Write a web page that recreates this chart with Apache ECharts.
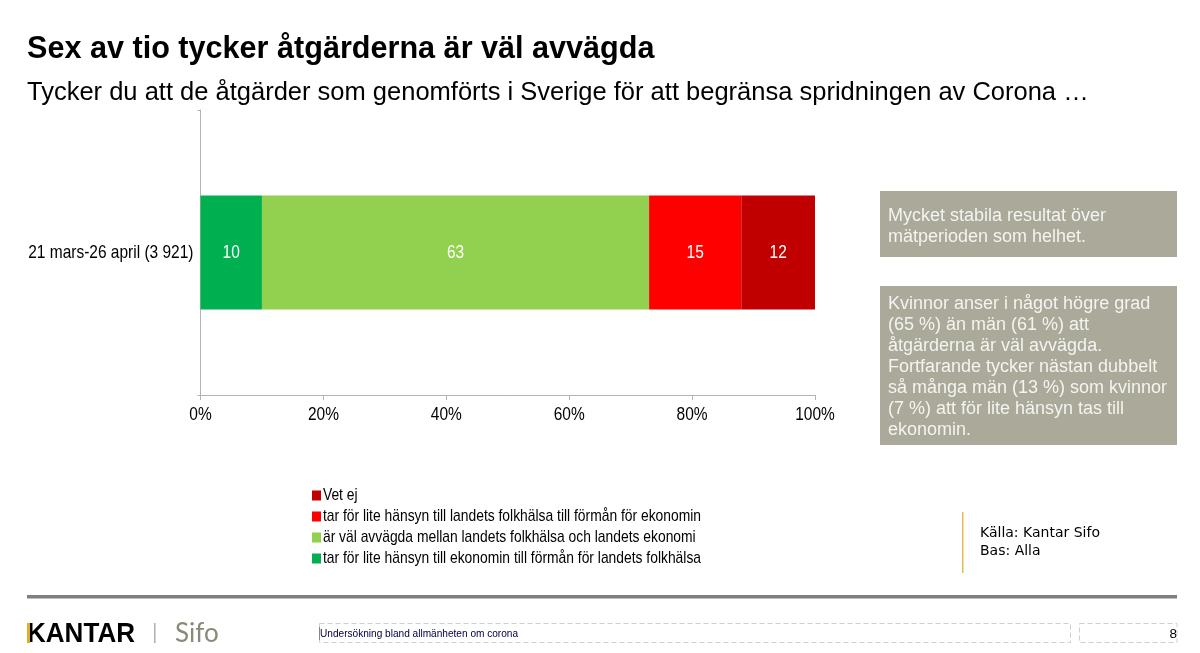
<!DOCTYPE html>
<html><head><meta charset="utf-8"><style>html,body{margin:0;padding:0;background:#fff}#c{width:1200px;height:653px}</style>
<script src="https://cdn.jsdelivr.net/npm/echarts@6/dist/echarts.min.js"></script></head>
<body><div id="c"></div><script>
const categories = ['21 mars-26 april (3 921)'];
const seriesNames = [
 'tar för lite hänsyn till ekonomin till förmån för landets folkhälsa',
 'är väl avvägda mellan landets folkhälsa och landets ekonomi',
 'tar för lite hänsyn till landets folkhälsa till förmån för ekonomin',
 'Vet ej'];
const valuesEconomy = [10];
const valuesBalanced = [63];
const valuesHealth = [15];
const valuesDontKnow = [12];
const colors = ['#00B050','#92D050','#FF0000','#C00000'];
const legendOrder = ['Vet ej', seriesNames[2], seriesNames[1], seriesNames[0]];
const title = 'Sex av tio tycker åtgärderna är väl avvägda';
const subtitle = 'Tycker du att de åtgärder som genomförts i Sverige för att begränsa spridningen av Corona …';
const box1 = ['Mycket stabila resultat över','mätperioden som helhet.'];
const box2 = ['Kvinnor anser i något högre grad','(65 %) än män (61 %) att','åtgärderna är väl avvägda.','Fortfarande tycker nästan dubbelt','så många män (13 %) som kvinnor','(7 %) att för lite hänsyn tas till','ekonomin.'];
const F='"Liberation Sans", Arial, sans-serif';
// Chart text in the reference is a condensed face; it is narrowed after rendering (see below).
const N='"Liberation Sans", Arial';
const chart = echarts.init(document.getElementById('c'),null,{renderer:'canvas'});
const vals=[valuesEconomy,valuesBalanced,valuesHealth,valuesDontKnow];
function txt(x,y,s,size,color,weight,family,align){return {type:'text',x,y,silent:true,style:{text:s,fontSize:size,fill:color,fontWeight:weight||'normal',fontFamily:family||F,textAlign:align||'left',textVerticalAlign:'middle'}};}
function rect(x,y,w,h,fill){return {type:'rect',silent:true,shape:{x,y,width:w,height:h},style:{fill}};}
function dash(x,y,w,h){return {type:'rect',silent:true,shape:{x,y,width:w,height:h},style:{fill:'none',stroke:'#cfcfcf',lineWidth:1,lineDash:[5,3]}};}
const graphic=[
 txt(27,50,title,30.6,'#000','bold'),
 txt(27,93,subtitle,25.5,'#000'),
 rect(880,191,297,66,'#AAA99A'),
 rect(880,286,297,159,'#AAA99A'),
 ...box1.map((s,i)=>txt(888,216+i*21,s,18,'#f4f4f0')),
 ...box2.map((s,i)=>txt(888,304+i*21,s,18,'#f4f4f0')),
 rect(962,512,1.5,61,'#E6BE4A'),
 txt(980,533,'Källa: Kantar Sifo',14,'#000','normal','"DejaVu Sans"'),
 txt(980,551,'Bas: Alla',14,'#000','normal','"DejaVu Sans"'),
 rect(27,595,1150,3.5,'#7f7f7f'),
 Object.assign(txt(27,634,'KANTAR',28,'#000','bold'),{scaleX:0.93}),
 rect(27,623,3,20,'#E0B020'),
 rect(154,623,1.5,20,'#b0b0a8'),
 txt(175,634,'Sifo',26,'#8a8a78','normal','Lato'),
 dash(319.5,623.5,751,19),
 dash(1079.5,623.5,97.5,19),
 rect(319,627,1,13,'#888'),
 txt(320,634,'Undersökning bland allmänheten om corona',10.1,'#000040'),
 txt(1177,634,'8',13.5,'#000','normal',F,'right')
];
chart.setOption({
 animation:false,
 backgroundColor:'#fff',
 grid:{left:200.5,top:110,width:614.5,height:285,containLabel:false,outerBoundsMode:'none'},
 xAxis:{type:'value',min:0,max:100,interval:20,
  axisLine:{show:true,lineStyle:{color:'#b3b3b3',width:1}},
  axisTick:{show:true,length:5,inside:false,lineStyle:{color:'#b3b3b3'}},
  splitLine:{show:false},
  axisLabel:{formatter:'{value}%',fontFamily:N,fontSize:19,color:'#000',margin:10}},
 yAxis:{type:'category',data:categories,
  axisLine:{show:true,lineStyle:{color:'#b3b3b3',width:1}},
  axisTick:{show:true,length:3,lineStyle:{color:'#b3b3b3'}},
  axisLabel:{fontFamily:N,fontSize:19,color:'#000',margin:7}},
 legend:{orient:'vertical',left:312,top:487,padding:0,itemWidth:9,itemHeight:10,itemGap:4,icon:'rect',selectedMode:false,data:legendOrder,
  textStyle:{fontFamily:N,fontSize:17,color:'#000',padding:[0,0,0,-0.6]}},
 series:seriesNames.map((n,i)=>({name:n,type:'bar',stack:'a',barWidth:114,data:vals[i],itemStyle:{color:colors[i]},
  label:{show:true,position:'inside',color:'#fff',fontFamily:N,fontSize:19}})),
 graphic
});
// Narrow the library-drawn labels about their own anchors to imitate the condensed face.
const zr = chart.getZr();
zr.flush();
const seen = new Set();
zr.storage.getDisplayList(true).forEach(el => {
  const p = el.parent;
  const font = el.style && el.style.font;
  if (p && font && font.indexOf(N) >= 0 && font.indexOf('sans-serif') < 0 && !seen.has(p)) {
    seen.add(p);
    p.scaleX = 0.815;
    p.markRedraw();
  }
});
zr.refreshImmediately();
</script></body></html>
